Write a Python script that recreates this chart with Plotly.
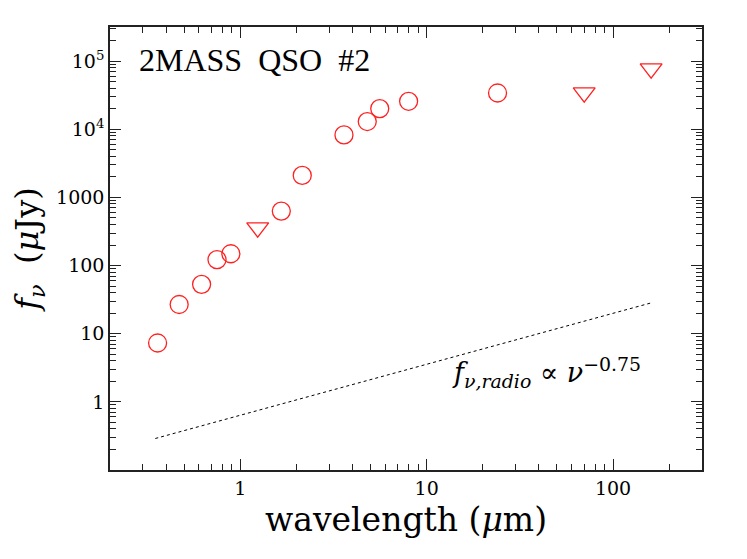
import numpy as np
import plotly.graph_objects as go

# detections (circles)
det_wave = [0.36, 0.47, 0.62, 0.75, 0.89, 1.66, 2.15, 3.6, 4.8, 5.6, 8.0, 24.0]
det_flux = [7.3, 26.8, 53, 122, 149, 630, 2100, 8260, 12970, 20100, 25700, 34000]

# upper limits (triangles)
lim_wave = [1.24, 70.0, 160.0]
lim_flux = [360, 34400, 77600]

# radio power-law reference line, f_nu ~ nu^-0.75
radio_wave = [0.35, 160.0]
radio_flux = [0.29, 28.3]

y_tickvals = [1, 10, 100, 1000, 1e4, 1e5]
y_ticktext = ["1", "10", "100", "1000", "10<sup>4</sup>", "10<sup>5</sup>"]
x_tickvals = [1, 10, 100]
x_ticktext = ["1", "10", "100"]

font_serif = "DejaVu Serif"
red = "#ff2020"
x_range = [np.log10(0.2), np.log10(300)]
y_range = [-1, 5.5]

fig = go.Figure()
# the dotted line sits on the overlay axes (same ranges) so those axes get drawn
fig.add_trace(go.Scatter(x=radio_wave, y=radio_flux, mode="lines", xaxis="x2", yaxis="y2",
                         line=dict(color="black", width=1, dash="dot"), showlegend=False))
fig.add_trace(go.Scatter(x=det_wave, y=det_flux, mode="markers",
                         marker=dict(symbol="circle-open", size=18, color=red, line=dict(width=1.3)),
                         showlegend=False))
fig.add_trace(go.Scatter(x=lim_wave, y=lim_flux, mode="markers",
                         marker=dict(symbol="triangle-down-open", size=19, color=red, line=dict(width=1.3)),
                         showlegend=False))

# minor tick positions, 2..9 in every decade (drawn by overlay axes;
# the "minor" attribute stopped the major ticks from being drawn)
minor_x = [k * 10.0 ** e for e in range(-1, 3) for k in range(2, 10)]
minor_y = [k * 10.0 ** e for e in range(-1, 6) for k in range(2, 10)]

axis_common = dict(showline=True, linecolor="#222", linewidth=1.5, mirror="ticks",
                   ticks="inside", tickcolor="#222", showgrid=False, zeroline=False)

fig.update_layout(
    xaxis=dict(type="log", range=x_range, tickvals=x_tickvals, ticktext=x_ticktext,
               ticklen=11, tickwidth=1.3,
               tickfont=dict(family=font_serif, size=19, color="black"),
               title=dict(text="wavelength (<i>μ</i>m)",
                          font=dict(family=font_serif, size=33, color="black"), standoff=10),
               **axis_common),
    yaxis=dict(type="log", range=y_range, tickvals=y_tickvals, ticktext=y_ticktext,
               ticklen=11, tickwidth=1.3,
               tickfont=dict(family=font_serif, size=19, color="black"),
               title=dict(text="<i>f</i><sub><i>ν</i></sub>  (<i>μ</i>Jy)",
                          font=dict(family=font_serif, size=32, color="black"), standoff=10),
               **axis_common),
    xaxis2=dict(type="log", range=x_range, overlaying="x", anchor="y2", side="bottom",
                tickvals=minor_x, showticklabels=False, ticklen=6, tickwidth=1,
                **axis_common),
    yaxis2=dict(type="log", range=y_range, overlaying="y", anchor="x2", side="left",
                tickvals=minor_y, showticklabels=False, ticklen=6, tickwidth=1,
                **axis_common),
)

fig.add_annotation(x=0.045, y=0.97, xref="paper", yref="paper", xanchor="left", yanchor="top",
                   text="2MASS  QSO  #2", showarrow=False,
                   font=dict(family="Liberation Serif", size=32, color="black"))
fig.add_annotation(x=0.575, y=0.22, xref="paper", yref="paper", xanchor="left", yanchor="middle",
                   text="<i>f</i><sub><i>ν,radio</i></sub> ∝ <i>ν</i><sup>−0.75</sup>", showarrow=False,
                   font=dict(family=font_serif, size=27, color="black"))

fig.update_layout(width=739, height=551, margin=dict(l=102, r=45, t=19, b=89),
                  plot_bgcolor="white", paper_bgcolor="white")

fig.write_html("out.html")
